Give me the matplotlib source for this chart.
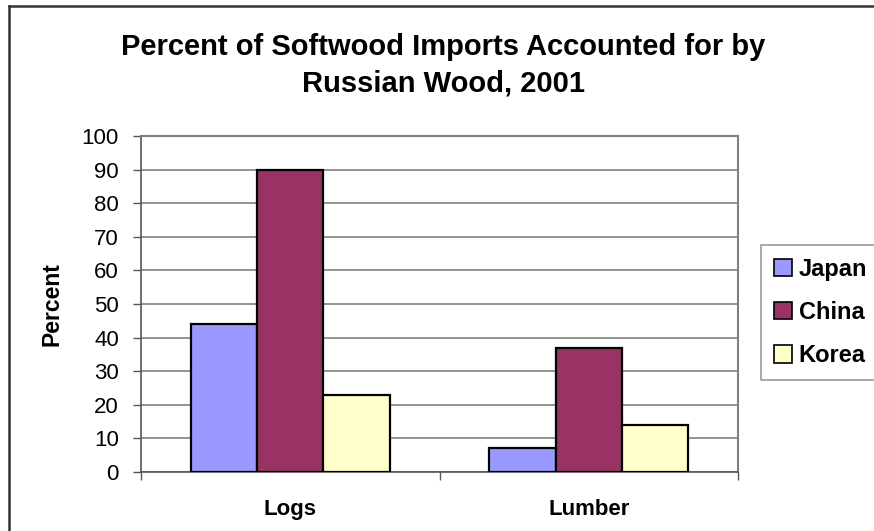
import numpy as np
import matplotlib.pyplot as plt

# percent of softwood imports from Russia, 2001
categories = ['Logs', 'Lumber']
japan = [44, 7]
china = [90, 37]
korea = [23, 14]
countries = ['Japan', 'China', 'Korea']
colors = ['#9999FF', '#993366', '#FFFFCC']

plt.rcParams['font.family'] = ['Liberation Sans', 'DejaVu Sans']

W, H = 874, 531
fig = plt.figure(figsize=(W / 100, H / 100), dpi=100)
# plot area in pixels: x 141..738, y 136..472
ax = fig.add_axes([141 / W, 1 - 471.7 / H, 597 / W, 335.5 / H])

x = np.arange(len(categories))
w = 1 / 4.5  # gap width 150%
for i, (vals, name, c) in enumerate(zip([japan, china, korea], countries, colors)):
    ax.bar(x + (i - 1) * w, vals, w, color=c, edgecolor='black', linewidth=1.6,
           label=name, zorder=3)

ax.set_xlim(-0.5, 1.5)
ax.set_ylim(0, 100)
ax.set_yticks(range(0, 101, 10))
ax.set_xticks([-0.5, 0.5, 1.5], minor=True)
ax.set_xticks(x)
ax.set_xticklabels(categories, fontsize=16, fontweight='bold')
ax.tick_params(axis='x', which='major', length=0, pad=20)
ax.tick_params(axis='x', which='minor', length=6, width=1, color='#555555', direction='out')
ax.tick_params(axis='y', length=6, width=1, color='#555555', labelsize=16, pad=10)
ax.grid(axis='y', color='#808080', linewidth=1.2, zorder=0)
for s in ['top', 'right']:
    ax.spines[s].set_color('#808080')
    ax.spines[s].set_linewidth(1.5)
for s in ['left', 'bottom']:
    ax.spines[s].set_color('#555555')
    ax.spines[s].set_linewidth(1.2)
ax.set_ylabel('Percent', fontsize=16.5, fontweight='bold', labelpad=13)

leg = fig.legend(loc='upper left', bbox_to_anchor=(761 / W, 1 - 245 / H),
                 prop={'weight': 'bold', 'size': 17},
                 frameon=True, fancybox=False, handlelength=0.75, handleheight=0.75,
                 handletextpad=0.3, labelspacing=0.85, borderpad=0.55,
                 borderaxespad=0)
leg.get_frame().set_edgecolor('#808080')
leg.get_frame().set_linewidth(1.2)
for p in leg.get_patches():
    p.set_linewidth(1.2)

fig.text(443 / W, 1 - 55 / H, 'Percent of Softwood Imports Accounted for by',
         ha='center', va='baseline', fontsize=21, fontweight='bold')
fig.text(443 / W, 1 - 91 / H, 'Russian Wood, 2001',
         ha='center', va='baseline', fontsize=21, fontweight='bold')

# outer frame, left and top edges
fig.add_artist(plt.Line2D([9 / W, 9 / W], [0, 1 - 6 / H], color='#333333',
                          linewidth=1.8, transform=fig.transFigure))
fig.add_artist(plt.Line2D([9 / W, 1], [1 - 6 / H, 1 - 6 / H], color='#333333',
                          linewidth=1.8, transform=fig.transFigure))

fig.savefig('out.png', dpi=100)
